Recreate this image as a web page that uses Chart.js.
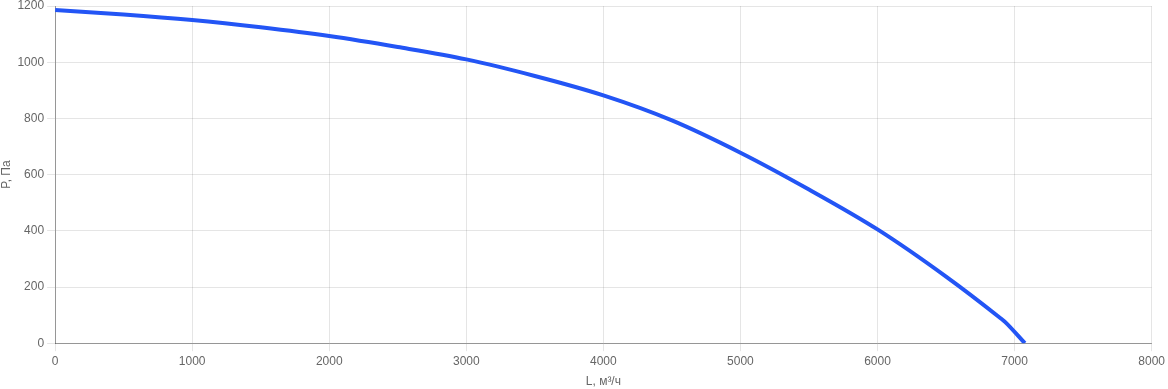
<!DOCTYPE html>
<html>
<head>
<meta charset="utf-8">
<script src="https://cdn.jsdelivr.net/npm/chart.js@4"></script>
<style>
html,body{margin:0;padding:0;background:#fff;}
#wrap{width:1168px;height:389px;position:relative;}
</style>
</head>
<body>
<div id="wrap"><canvas id="c"></canvas></div>
<script>
const flowValues = [0, 500, 1000, 1500, 2000, 2500, 3000, 3500, 4000, 4500, 5000, 5500, 6000, 6500, 6900, 6930, 7075];
const pressureValues = [1186, 1170, 1150, 1124, 1093, 1054, 1010, 951, 882, 793, 678, 547, 405, 237, 88, 76, 0];
const xTitle = 'L, м³/ч';
const yTitle = 'P, Па';

Chart.defaults.font.family = '"Liberation Sans", Arial, Helvetica, sans-serif';
Chart.defaults.font.size = 12;
Chart.defaults.color = '#666';

new Chart(document.getElementById('c'), {
  type: 'line',
  data: {
    datasets: [{
      data: flowValues.map((x, i) => ({x: x, y: pressureValues[i]})),
      borderColor: 'rgb(35, 85, 245)',
      borderWidth: 4,
      pointRadius: 0,
      cubicInterpolationMode: 'monotone',
      fill: false
    }]
  },
  options: {
    responsive: true,
    maintainAspectRatio: false,
    animation: false,
    layout: {padding: {top: 0, left: -1, right: 0, bottom: 0}},
    plugins: {legend: {display: false}, tooltip: {enabled: false}},
    scales: {
      x: {
        type: 'linear',
        min: 0, max: 8000,
        ticks: {stepSize: 1000, callback: v => String(v)},
        grid: {color: 'rgba(0,0,0,0.1)'},
        border: {color: 'rgba(0,0,0,0.35)'},
        title: {display: true, text: xTitle, padding: {top: 3, bottom: 0}}
      },
      y: {
        min: 0, max: 1200,
        ticks: {stepSize: 200, callback: v => String(v), font: {lineHeight: 0.5}},
        grid: {color: 'rgba(0,0,0,0.1)'},
        border: {color: 'rgba(0,0,0,0.35)'},
        title: {display: true, text: yTitle, padding: {top: 0, bottom: 1}}
      }
    }
  }
});
</script>
</body>
</html>
